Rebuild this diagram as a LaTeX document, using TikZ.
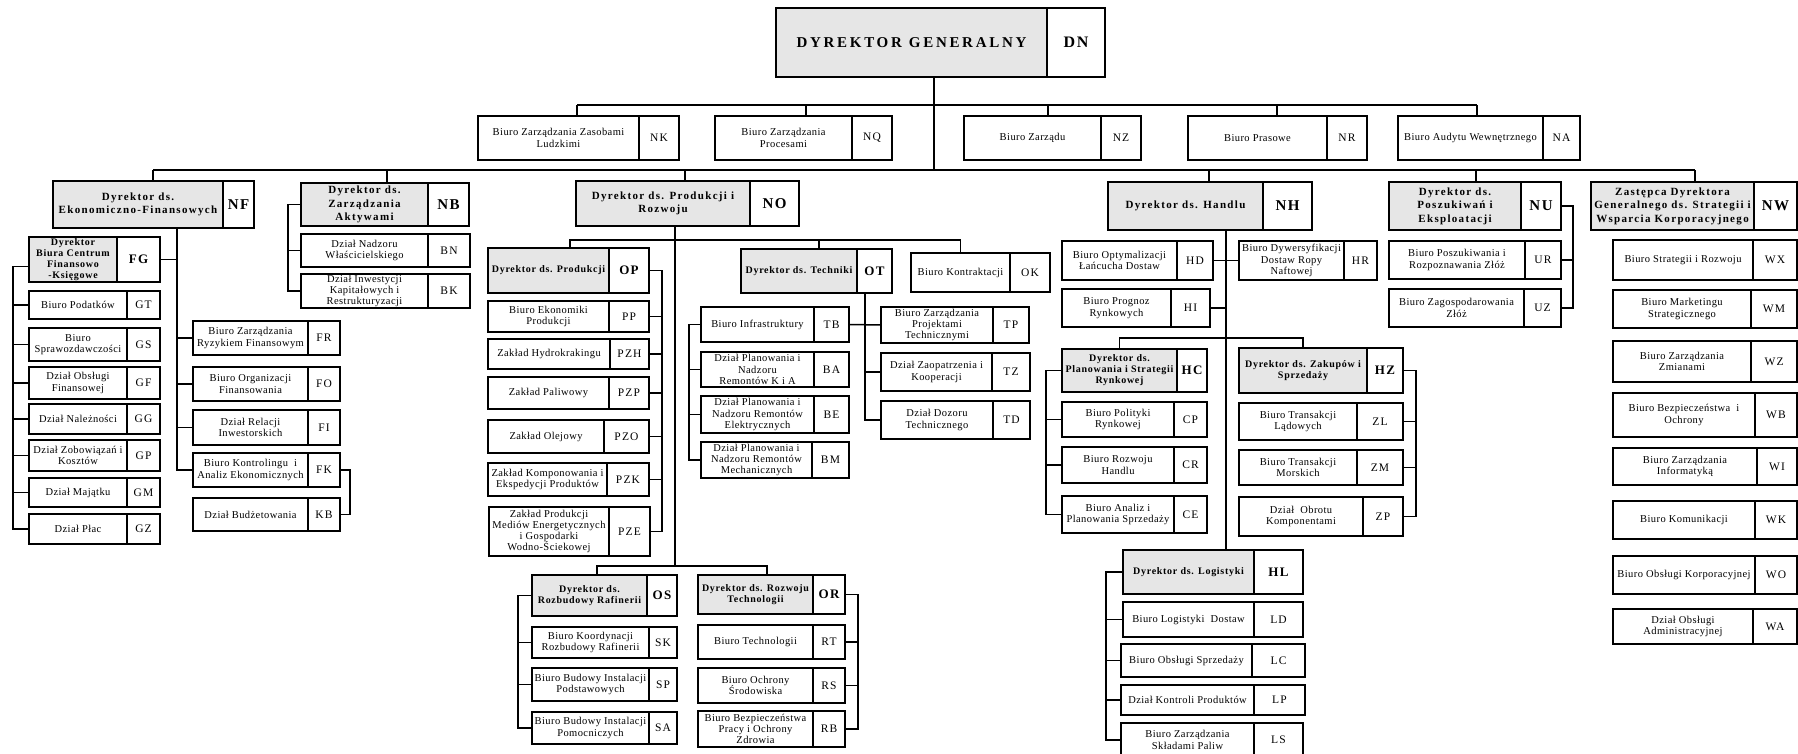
\documentclass[tikz,border=0pt]{standalone}
\usepackage{fontspec}
\setmainfont{Liberation Serif}
\newfontfamily\uf[LetterSpace=4]{Liberation Serif}
\newfontfamily\hf[LetterSpace=7]{Liberation Serif}
\newfontfamily\tf[LetterSpace=12]{Liberation Serif}
\newfontfamily\cf[LetterSpace=10]{Liberation Serif}
\newfontfamily\gf[LetterSpace=18]{Liberation Serif}
\definecolor{hgray}{HTML}{E6E6E6}
\tikzset{
  bx/.style={draw, line width=2.1pt, inner sep=0pt, outer sep=0pt, align=center},
  unit/.style={bx, fill=white, font=\uf\fontsize{10.5}{11.3}\selectfont},
  unitcode/.style={bx, fill=white, font=\cf\fontsize{11.5}{12}\selectfont},
  head/.style={bx, fill=hgray, font=\hf\bfseries\fontsize{10}{11}\selectfont},
  headcode/.style={bx, fill=white, font=\cf\bfseries\fontsize{13}{14}\selectfont},
  top/.style={bx, fill=hgray, font=\tf\bfseries\fontsize{11}{13.5}\selectfont},
  topcode/.style={bx, fill=white, font=\cf\bfseries\fontsize{15}{16}\selectfont},
  dn/.style={bx, line width=2.6pt, fill=hgray, font=\gf\bfseries\fontsize{15}{18}\selectfont},
  dncode/.style={bx, line width=2.6pt, fill=white, font=\cf\bfseries\fontsize{16}{18}\selectfont},
  ln/.style={line width=1.5pt},
}
\newcommand{\OB}[9]{%
  \node[#9, minimum width={(#4-#2)*1pt}, minimum height={(#6-#3)*1pt}] (#1) at ({(#2+#4)/2},{(#3+#6)/2}) {#7};
  \node[#9code, minimum width={(#5-#4)*1pt}, minimum height={(#6-#3)*1pt}] (#1-c) at ({(#4+#5)/2},{(#3+#6)/2}) {#8};}
\begin{document}
\begin{tikzpicture}[x=1pt,y=-1pt]
\useasboundingbox (0,0) rectangle (1798,753);
% ---------- boxes ----------
\OB{DN}{776}{8}{1047}{1105}{77}{DYREKTOR\hspace{7pt}GENERALNY}{DN}{dn}
\OB{NK}{478}{116}{639}{679}{160}{Biuro Zarządzania Zasobami\\Ludzkimi}{NK}{unit}
\OB{NQ}{715}{116}{852}{892}{160}{Biuro Zarządzania\\Procesami}{NQ}{unit}
\OB{NZ}{964}{116}{1101}{1141}{160}{Biuro Zarządu}{NZ}{unit}
\OB{NR}{1188}{116}{1327}{1367}{160}{Biuro Prasowe}{NR}{unit}
\OB{NA}{1398}{116}{1543}{1580}{160}{Biuro Audytu Wewnętrznego}{NA}{unit}
% NF
\OB{NF}{53}{181}{223}{254}{228}{Dyrektor ds.\\Ekonomiczno-Finansowych}{NF}{top}
\OB{FG}{29}{237}{117}{160}{282}{Dyrektor\\Biura Centrum\\Finansowo\\-Księgowe}{FG}{head}
\OB{GT}{29}{291}{127}{160}{319}{Biuro Podatków}{GT}{unit}
\OB{GS}{29}{328}{127}{160}{361}{Biuro\\Sprawozdawczości}{GS}{unit}
\OB{GF}{29}{367}{127}{160}{399}{Dział Obsługi\\Finansowej}{GF}{unit}
\OB{GG}{29}{404}{127}{160}{434}{Dział Należności}{GG}{unit}
\OB{GP}{29}{440}{127}{160}{471}{Dział Zobowiązań i\\Kosztów}{GP}{unit}
\OB{GM}{29}{478}{127}{160}{507}{Dział Majątku}{GM}{unit}
\OB{GZ}{29}{514}{127}{160}{544}{Dział Płac}{GZ}{unit}
\OB{FR}{193}{321}{308}{340}{355}{Biuro Zarządzania\\Ryzykiem Finansowym}{FR}{unit}
\OB{FO}{193}{367}{308}{340}{401}{Biuro Organizacji\\Finansowania}{FO}{unit}
\OB{FI}{193}{410}{308}{340}{445}{Dział Relacji\\Inwestorskich}{FI}{unit}
\OB{FK}{193}{453}{308}{340}{487}{Biuro Kontrolingu\ \ i\\Analiz Ekonomicznych}{FK}{unit}
\OB{KB}{193}{498}{308}{340}{531}{Dział Budżetowania}{KB}{unit}
% NB
\OB{NB}{301}{183}{428}{469}{226}{Dyrektor ds.\\Zarządzania\\Aktywami}{NB}{top}
\OB{BN}{301}{234}{428}{470}{267}{Dział Nadzoru\\Właścicielskiego}{BN}{unit}
\OB{BK}{301}{274}{428}{470}{308}{Dział Inwestycji\\Kapitałowych i\\Restrukturyzacji}{BK}{unit}
% NO
\OB{NO}{576}{181}{750}{799}{226}{Dyrektor ds. Produkcji i\\Rozwoju}{NO}{top}
\OB{OP}{488}{248}{609}{649}{293}{Dyrektor ds. Produkcji}{OP}{head}
\OB{PP}{488}{301}{609}{649}{332}{Biuro Ekonomiki\\Produkcji}{PP}{unit}
\OB{PZH}{488}{339}{610}{649}{369}{Zakład Hydrokrakingu}{PZH}{unit}
\OB{PZP}{488}{377}{609}{649}{409}{Zakład Paliwowy}{PZP}{unit}
\OB{PZO}{488}{420}{604}{649}{453}{Zakład Olejowy}{PZO}{unit}
\OB{PZK}{488}{463}{607}{649}{496}{Zakład Komponowania i\\Ekspedycji Produktów}{PZK}{unit}
\OB{PZE}{489}{507}{609}{650}{556}{Zakład Produkcji\\Mediów Energetycznych\\i Gospodarki\\Wodno-Ściekowej}{PZE}{unit}
\OB{OT}{741}{249}{857}{892}{293}{Dyrektor ds. Techniki}{OT}{head}
\OB{OK}{911}{253}{1010}{1050}{292}{Biuro Kontraktacji}{OK}{unit}
\OB{TB}{701}{307}{814}{849}{342}{Biuro Infrastruktury}{TB}{unit}
\OB{BA}{701}{352}{814}{849}{387}{Dział Planowania i\\Nadzoru\\Remontów K i A}{BA}{unit}
\OB{BE}{701}{396}{814}{849}{433}{Dział Planowania i\\Nadzoru Remontów\\Elektrycznych}{BE}{unit}
\OB{BM}{701}{442}{812}{849}{478}{Dział Planowania i\\Nadzoru Remontów\\Mechanicznych}{BM}{unit}
\OB{TP}{881}{307}{993}{1029}{343}{Biuro Zarządzania\\Projektami\\Technicznymi}{TP}{unit}
\OB{TZ}{881}{353}{992}{1030}{391}{Dział Zaopatrzenia i\\Kooperacji}{TZ}{unit}
\OB{TD}{881}{401}{993}{1030}{439}{Dział Dozoru\\Technicznego}{TD}{unit}
\OB{OS}{532}{575}{647}{677}{616}{Dyrektor ds.\\Rozbudowy Rafinerii}{OS}{head}
\OB{SK}{532}{627}{649}{677}{658}{Biuro Koordynacji\\Rozbudowy Rafinerii}{SK}{unit}
\OB{SP}{532}{668}{649}{677}{701}{Biuro Budowy Instalacji\\Podstawowych}{SP}{unit}
\OB{SA}{532}{712}{649}{677}{744}{Biuro Budowy Instalacji\\Pomocniczych}{SA}{unit}
\OB{OR}{698}{575}{813}{845}{614}{Dyrektor ds. Rozwoju\\Technologii}{OR}{head}
\OB{RT}{698}{625}{813}{845}{659}{Biuro Technologii}{RT}{unit}
\OB{RS}{698}{668}{813}{845}{703}{Biuro Ochrony\\Środowiska}{RS}{unit}
\OB{RB}{698}{711}{813}{845}{747}{Biuro Bezpieczeństwa\\Pracy i Ochrony\\Zdrowia}{RB}{unit}
% NH
\OB{NH}{1108}{182}{1263}{1312}{230}{Dyrektor ds. Handlu}{NH}{top}
\OB{HD}{1062}{241}{1177}{1213}{280}{Biuro Optymalizacji\\Łańcucha Dostaw}{HD}{unit}
\OB{HR}{1239}{241}{1344}{1377}{280}{Biuro Dywersyfikacji\\Dostaw Ropy\\Naftowej}{HR}{unit}
\OB{HI}{1062}{289}{1171}{1210}{327}{Biuro Prognoz\\Rynkowych}{HI}{unit}
\OB{HC}{1062}{349}{1177}{1207}{392}{Dyrektor ds.\\Planowania i Strategii\\Rynkowej}{HC}{head}
\OB{CP}{1062}{402}{1174}{1207}{437}{Biuro Polityki\\Rynkowej}{CP}{unit}
\OB{CR}{1062}{447}{1174}{1207}{483}{Biuro Rozwoju\\Handlu}{CR}{unit}
\OB{CE}{1062}{496}{1174}{1207}{533}{Biuro Analiz i\\Planowania Sprzedaży}{CE}{unit}
\OB{HZ}{1239}{348}{1367}{1403}{393}{Dyrektor ds. Zakupów i\\Sprzedaży}{HZ}{head}
\OB{ZL}{1239}{403}{1357}{1403}{440}{Biuro Transakcji\\Lądowych}{ZL}{unit}
\OB{ZM}{1239}{450}{1357}{1403}{485}{Biuro Transakcji\\Morskich}{ZM}{unit}
\OB{ZP}{1239}{497}{1363}{1403}{536}{Dział\ \ Obrotu\\Komponentami}{ZP}{unit}
\OB{HL}{1123}{550}{1254}{1303}{594}{Dyrektor ds. Logistyki}{HL}{head}
\OB{LD}{1123}{602}{1254}{1303}{637}{Biuro Logistyki\ \ Dostaw}{LD}{unit}
\OB{LC}{1121}{644}{1252}{1305}{677}{Biuro Obsługi Sprzedaży}{LC}{unit}
\OB{LP}{1121}{685}{1254}{1305}{715}{Dział Kontroli Produktów}{LP}{unit}
\OB{LS}{1121}{723}{1254}{1303}{757}{Biuro Zarządzania\\Składami Paliw}{LS}{unit}
% NU
\OB{NU}{1389}{182}{1521}{1561}{230}{Dyrektor ds.\\Poszukiwań i\\Eksploatacji}{NU}{top}
\OB{UR}{1389}{241}{1525}{1561}{279}{Biuro Poszukiwania i\\Rozpoznawania Złóż}{UR}{unit}
\OB{UZ}{1389}{289}{1524}{1561}{327}{Biuro Zagospodarowania\\Złóż}{UZ}{unit}
% NW
\OB{NW}{1591}{182}{1754}{1797}{230}{Zastępca Dyrektora\\Generalnego ds. Strategii i\\Wsparcia Korporacyjnego}{NW}{top}
\OB{WX}{1613}{240}{1753}{1797}{280}{Biuro Strategii i Rozwoju}{WX}{unit}
\OB{WM}{1613}{290}{1751}{1797}{328}{Biuro Marketingu\\Strategicznego}{WM}{unit}
\OB{WZ}{1613}{341}{1751}{1797}{382}{Biuro Zarządzania\\Zmianami}{WZ}{unit}
\OB{WB}{1613}{393}{1755}{1797}{437}{Biuro Bezpieczeństwa\ \ i\\Ochrony}{WB}{unit}
\OB{WI}{1613}{448}{1757}{1797}{485}{Biuro Zarządzania\\Informatyką}{WI}{unit}
\OB{WK}{1613}{501}{1755}{1797}{539}{Biuro Komunikacji}{WK}{unit}
\OB{WO}{1613}{556}{1755}{1797}{594}{Biuro Obsługi Korporacyjnej}{WO}{unit}
\OB{WA}{1613}{609}{1753}{1797}{644}{Dział Obsługi\\Administracyjnej}{WA}{unit}
% ---------- connectors ----------
\coordinate (dnx) at (934,170);
\coordinate (r1L) at (577,105);
\coordinate (r1R) at (1477,105);
\coordinate (busL) at (153,170);
\coordinate (busR) at (1695,170);
\draw[ln] (DN.south -| dnx) -- (dnx);
\draw[ln] (r1L) -- (r1R);
\draw[ln] (busL) -- (busR);
\foreach \n/\x in {NK/577,NQ/806,NZ/1048,NR/1277,NA/1477}
  \draw[ln] (\n.north -| \x,0) -- (\x,105);
\foreach \n/\x in {NF/153,NB/387,NO/685,NH/1209,NU/1476,NW/1695}
  \draw[ln] (\n.north -| \x,0) -- (\x,170);
% NF
\draw[ln] (NF.south -| 177,0) -- (FK.west -| 177,0) -- (FK.west);
\foreach \n in {FR,FO,FI} \draw[ln] (\n.west) -- (\n.west -| 177,0);
\draw[ln] (FG-c.east) -- (FG-c.east -| 177,0);
\draw[ln] ([yshift=-7pt]FG.west) -- ++(-16,0) |- (GZ.west);
\foreach \n in {GT,GS,GF,GG,GP,GM} \draw[ln] (\n.west) -- (\n.west -| 13,0);
\draw[ln] (FK-c.east) -- ++(10,0) |- (KB-c.east);
% NB
\draw[ln] (NB.west) -- ++(-13,0) |- (BK.west);
\draw[ln] (BN.west) -- (BN.west -| 288,0);
% NO
\coordinate (nox) at (675,566);
\draw[ln] (NO.south -| nox) -- (nox);
\draw[ln] (OP.north -| 570,0) -- (570,240) -- (OK.north |- 0,240) -- (OK.north);
\draw[ln] (OT.north -| 819,0) -- (819,240);
\draw[ln] (OP-c.east) -- ++(13,0) |- (PZE-c.east);
\foreach \n in {PP,PZH,PZP,PZO,PZK} \draw[ln] (\n-c.east) -- (\n-c.east -| 662,0);
\draw[ln] (OT-c.south -| 865,0) -- (TD.west -| 865,0) -- (TD.west);
\draw[ln] (TZ.west) -- (TZ.west -| 865,0);
\draw[ln] (TB-c.east) -- (TP.west);
\draw[ln] (TB.west) -- ++(-12,0) |- (BM.west);
\foreach \n in {BA,BE} \draw[ln] (\n.west) -- (\n.west -| 689,0);
\draw[ln] (OS.north -| 597,0) -- (597,566) -- (767,566) -- (OR.north -| 767,0);
\draw[ln] (OS.west) -- ++(-14,0) |- (SA.west);
\foreach \n in {SK,SP} \draw[ln] (\n.west) -- (\n.west -| 518,0);
\draw[ln] (OR-c.east) -- ++(13,0) |- (RB-c.east);
\foreach \n in {RT,RS} \draw[ln] (\n-c.east) -- (\n-c.east -| 858,0);
% NH
\draw[ln] (NH.south -| 1226,0) -- (HL.north -| 1226,0);
\draw[ln] (HD-c.east) -- (HR.west);
\draw[ln] (HI-c.east) -- (HI-c.east -| 1226,0);
\draw[ln] (HC.north) -- ++(0,-11) -| (HZ.north);
\draw[ln] (HC.west) -- ++(-16,0) |- (CE.west);
\foreach \n in {CP,CR} \draw[ln] (\n.west) -- (\n.west -| 1046,0);
\draw[ln] (HZ-c.east) -- ++(13,0) |- (ZP-c.east);
\foreach \n in {ZL,ZM} \draw[ln] (\n-c.east) -- (\n-c.east -| 1416,0);
\draw[ln] (HL.west) -- ++(-17,0) |- (LS.west);
\foreach \n in {LD,LC,LP} \draw[ln] (\n.west) -- (\n.west -| 1106,0);
% NU
\draw[ln] (NU-c.east) -- ++(12,0) |- (UZ-c.east);
\draw[ln] (UR-c.east) -- (UR-c.east -| 1573,0);
% NW stubs
\foreach \n in {NW,WX,WM,WZ,WB,WI,WK,WO,WA} \draw[ln] (\n-c.east) -- ++(5,0);
\end{tikzpicture}
\end{document}
